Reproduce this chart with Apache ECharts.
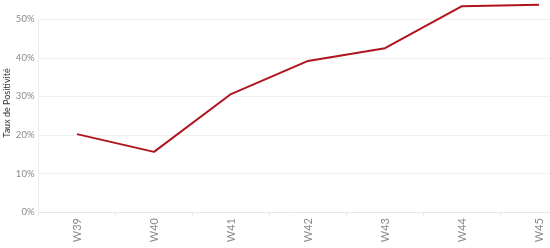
<!DOCTYPE html>
<html><head><meta charset="utf-8">
<script src="https://cdn.jsdelivr.net/npm/echarts@6/dist/echarts.min.js"></script>
<style>html,body{margin:0;padding:0;background:#fff}#c{width:550px;height:248px}</style>
</head><body><div id="c"></div>
<script>
var categories = ['W39','W40','W41','W42','W43','W44','W45'];
var positivity = [20.2, 15.6, 30.6, 39.2, 42.5, 53.4, 53.8];
var yTicks = [0, 10, 20, 30, 40, 50];
var yTitle = 'Taux de Positivité';

var chart = echarts.init(document.getElementById('c'), null, {renderer:'canvas'});
chart.setOption({
  animation:false,
  grid:{left:38.5, top:19.3, width:539, height:192.7, containLabel:false, outerBoundsMode:'none'},
  graphic:[{type:'text', x:7, y:103, rotation:Math.PI/2,
    style:{text:yTitle, fill:'#333', font:'9px Lato', align:'center', verticalAlign:'middle'}}],
  xAxis:{type:'category', data:categories, boundaryGap:true,
    axisLine:{show:true, lineStyle:{color:'#e8e8e8'}},
    axisTick:{show:true, length:4, lineStyle:{color:'#e8e8e8'}},
    axisLabel:{rotate:90, color:'#8a8a8a', fontSize:11, fontFamily:'Lato', margin:6},
    splitLine:{show:false}},
  yAxis:{type:'value', min:yTicks[0], max:yTicks[yTicks.length-1], interval:10,
    axisLine:{show:true, lineStyle:{color:'#eeeeee'}},
    axisTick:{show:false},
    axisLabel:{formatter:'{value}%', color:'#8a8a8a', fontSize:9.5, fontFamily:'Lato', margin:4},
    splitLine:{lineStyle:{color:'#f0f0f0'}}},
  series:[{type:'line', data:positivity, symbol:'none', clip:false, lineStyle:{color:'#b0141c', width:2}}]
});
</script></body></html>
